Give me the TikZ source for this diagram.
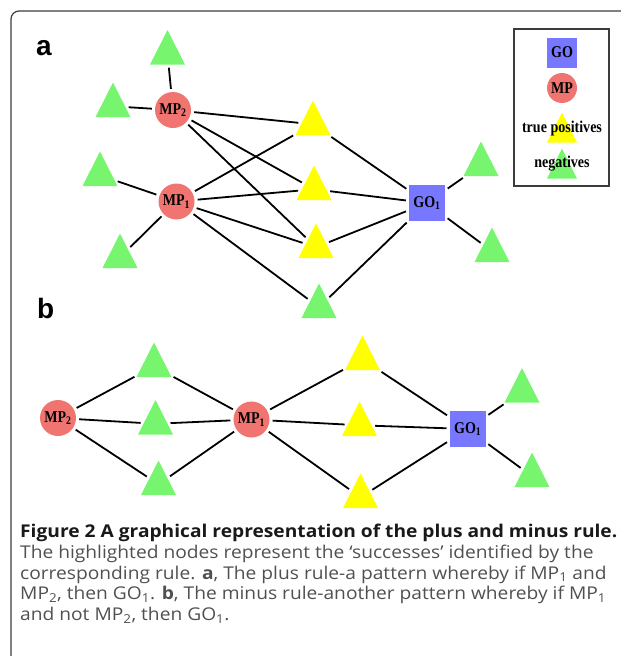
\documentclass[tikz,border=0pt]{standalone}
\usepackage{fontspec}
\setmainfont{Liberation Serif}
\newfontfamily\capfont[FakeStretch=1.09]{Open Sans}
\newfontfamily\labfont{Liberation Sans}
\usetikzlibrary{shapes.geometric}

\definecolor{negGreen}{RGB}{119,245,110}
\definecolor{tpYellow}{RGB}{255,255,0}
\definecolor{mpRed}{RGB}{240,117,112}
\definecolor{goBlue}{RGB}{119,119,255}
\definecolor{capGray}{RGB}{80,80,80}
\definecolor{frameGray}{RGB}{60,60,60}

\newcommand{\narrow}[1]{\scalebox{0.85}[1]{#1}}

\begin{document}
\begin{tikzpicture}[x=1pt, y=-1pt,
    nodefont/.style={font=\fontsize{16.5}{17}\selectfont\bfseries},
    mp/.style={circle, fill=mpRed, minimum size=36pt, inner sep=0pt, nodefont},
    go/.style={rectangle, fill=goBlue, minimum size=36pt, inner sep=0pt, nodefont},
    tri/.style={isosceles triangle, isosceles triangle stretches, shape border rotate=90,
        minimum width=35pt, minimum height=34.5pt, inner sep=0pt, anchor=apex},
    neg/.style={tri, fill=negGreen},
    tp/.style={tri, fill=tpYellow},
    small/.style={minimum width=30pt, minimum height=30pt},
    link/.style={line width=1.8pt, shorten >=3pt, shorten <=3pt},
    panel/.style={anchor=base west, inner sep=0pt, font=\labfont\fontsize{28}{30}\selectfont\bfseries},
    capline/.style={anchor=base west, inner sep=0pt, text=capGray,
        font=\capfont\fontsize{17.6}{21}\selectfont}
]
    \useasboundingbox (0,0) rectangle (621,656);

    % Draw outer frame
    \draw[line width=1.2pt, frameGray, rounded corners=8pt] (11,700) -- (11,11) -- (700,11);

    % Panel labels
    \node[panel] (la) at (36,55) {a};
    \node[panel] (lb) at (37,318) {b};

    % Panel a: nodes
    \node[mp] (mpa2) at (173,110) {\narrow{MP\textsubscript{2}}};
    \node[mp] (mpa1) at (176.5,201.5) {\narrow{MP\textsubscript{1}}};
    \node[go] (goa) at (427,203) {\narrow{GO\textsubscript{1}}};
    \node[neg] (na1) at (167.5,29.5) {};
    \node[neg] (na2) at (113,82) {};
    \node[neg] (na3) at (100,151) {};
    \node[neg] (na4) at (120,233) {};
    \node[neg] (na5) at (319,283) {};
    \node[neg] (na6) at (481,141) {};
    \node[neg] (na7) at (492,227) {};
    \node[tp] (ta1) at (313,100) {};
    \node[tp] (ta2) at (314,165) {};
    \node[tp] (ta3) at (316,223) {};

    % Panel a: links
    \draw[link] (na1) -- (mpa2);
    \draw[link] (na2) -- (mpa2);
    \draw[link] (na3) -- (mpa1);
    \draw[link] (na4) -- (mpa1);
    \foreach \t in {ta1,ta2,ta3} {
        \draw[link] (mpa2) -- (\t);
        \draw[link] (mpa1) -- (\t);
        \draw[link] (\t) -- (goa);
    }
    \draw[link] (mpa1) -- (na5);
    \draw[link] (na5) -- (goa);
    \draw[link] (goa) -- (na6);
    \draw[link] (goa) -- (na7);

    % Legend
    \draw[line width=1.4pt, frameGray] (514,29) rectangle (609,186);
    \node[go, small, minimum size=30pt] (lgo) at (562,52.5) {\narrow{GO}};
    \node[mp, minimum size=30pt] (lmp) at (562,88) {\narrow{MP}};
    \node[tp, small] (ltp) at (562,112) {};
    \node[nodefont] (ltptext) at (562,129) {\narrow{true positives}};
    \node[neg, small] (lneg) at (562,148) {};
    \node[nodefont] (lnegtext) at (562,164) {\narrow{negatives}};

    % Panel b: nodes
    \node[mp] (mpb2) at (58,418) {\narrow{MP\textsubscript{2}}};
    \node[mp] (mpb1) at (251.5,419.5) {\narrow{MP\textsubscript{1}}};
    \node[go] (gob) at (467.7,429) {\narrow{GO\textsubscript{1}}};
    \node[neg] (nb1) at (154,342) {};
    \node[neg] (nb2) at (155.5,399.5) {};
    \node[neg] (nb3) at (158.5,460) {};
    \node[neg] (nb4) at (522,367.5) {};
    \node[neg] (nb5) at (532,452) {};
    \node[tp] (tb1) at (362.5,335) {};
    \node[tp] (tb2) at (359.5,401) {};
    \node[tp] (tb3) at (360.5,473) {};

    % Panel b: links
    \foreach \n in {nb1,nb2,nb3} {
        \draw[link] (mpb2) -- (\n);
        \draw[link] (\n) -- (mpb1);
    }
    \foreach \t in {tb1,tb2,tb3} {
        \draw[link] (mpb1) -- (\t);
        \draw[link] (\t) -- (gob);
    }
    \draw[link] (gob) -- (nb4);
    \draw[link] (gob) -- (nb5);

    % Caption
    \node[capline, text=black!90] (cap1) at (20,537.5) {\bfseries Figure 2 A graphical representation of the plus and minus rule.};
    \node[capline] (cap2) at (20,558.3) {The highlighted nodes represent the ‘successes’ identified by the};
    \node[capline] (cap3) at (20,579) {corresponding rule. \textbf{a}, The plus rule-a pattern whereby if MP\textsubscript{1} and};
    \node[capline] (cap4) at (20,599.6) {MP\textsubscript{2}, then GO\textsubscript{1}. \textbf{b}, The minus rule-another pattern whereby if MP\textsubscript{1}};
    \node[capline] (cap5) at (20,620.2) {and not MP\textsubscript{2}, then GO\textsubscript{1}.};
\end{tikzpicture}
\end{document}
